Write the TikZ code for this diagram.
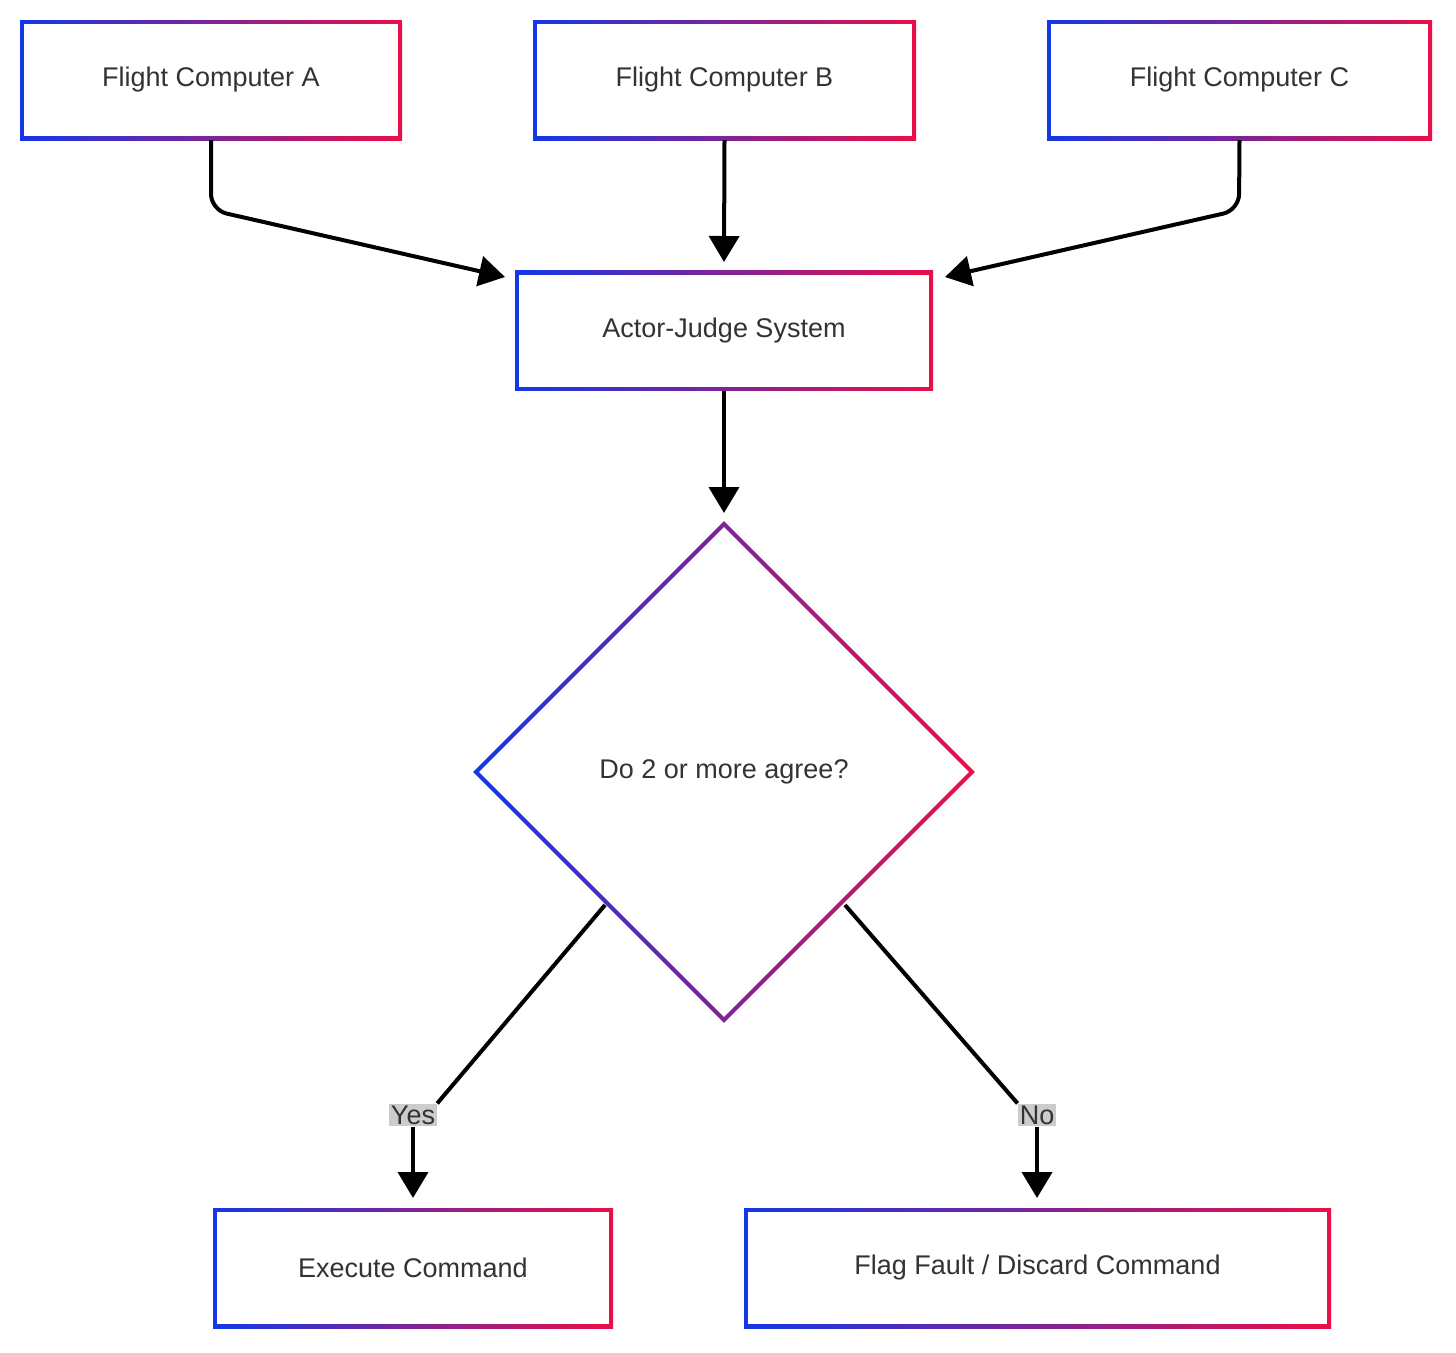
\documentclass[tikz,border=0pt]{standalone}
\usepackage{fontspec}
\setmainfont{Liberation Sans}
\usetikzlibrary{shapes.geometric,arrows.meta}
\definecolor{gb}{HTML}{1238E6}
\definecolor{gr}{HTML}{EA0F47}
\definecolor{tx}{HTML}{333333}
\begin{document}
\begin{tikzpicture}[x=1pt,y=-1pt,
  grad/.style={rectangle,inner sep=0,left color=gb,right color=gr,draw=none},
  inn/.style={rectangle,inner sep=0,fill=white,text=tx,font=\fontsize{27}{30}\selectfont},
  gdia/.style={diamond,inner sep=0,aspect=1,left color=gb,right color=gr,draw=none},
  idia/.style={diamond,inner sep=0,aspect=1,fill=white,text=tx,font=\fontsize{27}{30}\selectfont},
  arr/.style={line width=4pt,-{Triangle[length=26pt,width=30pt]},rounded corners=16pt},
  lab/.style={fill=black!20,inner sep=2pt,text=tx,font=\fontsize{27}{30}\selectfont}]
\useasboundingbox (0,0) rectangle (1456,1352);
\newcommand\gbox[5]{% name, cx, cy, w, text
  \node[grad,minimum width=#4pt,minimum height=120pt] (#1) at (#2,#3) {};
  \node[inn,minimum width=#4pt-8pt,minimum height=112pt] (#1t) at (#2,#3) {#5};}
\gbox{A}{211}{80}{382}{Flight Computer A}
\gbox{B}{724.5}{80}{383}{Flight Computer B}
\gbox{C}{1239.5}{80}{385}{Flight Computer C}
\gbox{J}{724}{330.5}{418}{Actor-Judge System}
\gbox{E}{413}{1268}{400}{Execute Command}
\gbox{F}{1037.5}{1268}{587}{Flag Fault / Discard Command}
\node[gdia,minimum width=502pt,minimum height=502pt] (D) at (724,772) {};
\node[idia,minimum width=490pt,minimum height=490pt] (Dt) at (724,772) {Do 2 or more agree?};
\coordinate (Aj) at (505,277);
\coordinate (Cj) at (945,277);
\draw[arr] (A.south) -- (211,210) -- (Aj);
\draw[arr] (C.south) -- (1239,210) -- (Cj);
\draw[arr] (B.south) -- (724,262);
\draw[arr] (J.south) -- (724,513);
\node[lab] (Y) at (413,1115) {Yes};
\node[lab] (N) at (1037,1115) {No};
\draw[line width=4pt] (605,905) -- (Y.north east);
\draw[line width=4pt] (845,905) -- (N.north west);
\draw[arr] (Y.south) -- (413,1198);
\draw[arr] (N.south) -- (1037,1198);
\end{tikzpicture}
\end{document}
